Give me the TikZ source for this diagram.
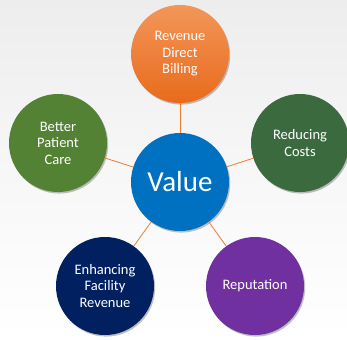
\documentclass[tikz,border=0pt]{standalone}
\usepackage{fontspec}
\setmainfont{Carlito}
\usetikzlibrary{shadows}
\definecolor{linkorange}{HTML}{ED7D31}
\definecolor{billtop}{HTML}{F39659}
\definecolor{billbottom}{HTML}{E86B1C}
\definecolor{valueblue}{HTML}{0070C0}
\definecolor{caregreen}{HTML}{548235}
\definecolor{costgreen}{HTML}{3A6A3E}
\definecolor{facnavy}{HTML}{002060}
\definecolor{reppurple}{HTML}{7030A0}
\definecolor{bgtop}{HTML}{EDEDED}
\tikzset{
  bubble/.style={circle, minimum size=98pt, inner sep=0pt, text=white,
    align=center, font=\fontsize{14.5}{16.5}\selectfont,
    drop shadow={shadow xshift=1.2pt, shadow yshift=-1.6pt, opacity=0.35, fill=black!70}},
  link/.style={draw=linkorange, line width=0.8pt}
}
\begin{document}
\begin{tikzpicture}[x=1pt,y=-1pt]
  % page background
  \shade[top color=bgtop, bottom color=white, middle color=bgtop!45]
    (0,0) rectangle (347,339);
  \useasboundingbox (0,0) rectangle (347,339);

  % hub
  \node[bubble, fill=valueblue, font=\fontsize{29}{32}\selectfont] (value) at (180,182) {Value};

  % surrounding topics
  \node[bubble, top color=billtop, bottom color=billbottom] (billing) at (180,54) {Revenue\\Direct\\Billing};
  \node[bubble, fill=caregreen] (care) at (58,143) {Better\\Patient\\Care};
  \node[bubble, fill=costgreen] (costs) at (300,143) {Reducing\\Costs};
  \node[bubble, fill=facnavy] (facility) at (105,286) {Enhancing\\Facility\\Revenue};
  \node[bubble, fill=reppurple] (reputation) at (255,286) {Reputation};

  % spokes
  \foreach \t in {billing,care,costs,facility,reputation}
    \draw[link] (value) -- (\t);
\end{tikzpicture}
\end{document}
